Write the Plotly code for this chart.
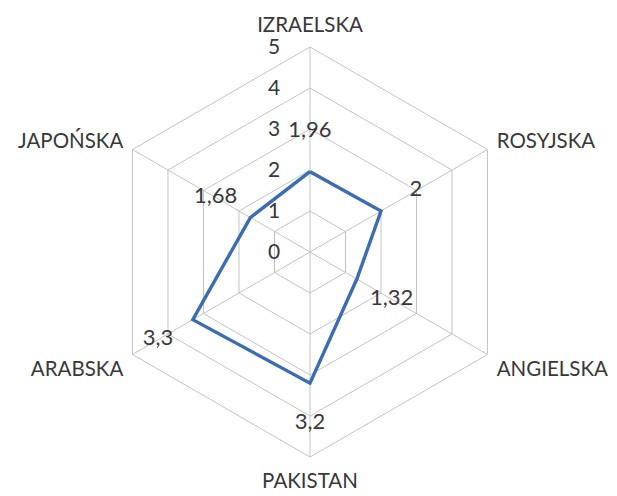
import plotly.graph_objects as go

categories = ["IZRAELSKA", "ROSYJSKA", "ANGIELSKA", "PAKISTAN", "ARABSKA", "JAPOŃSKA"]
values = [1.96, 2, 1.32, 3.2, 3.3, 1.68]
radial_ticks = [0, 1, 2, 3, 4, 5]

label_offset = 0.98
labels = [("%g" % v).replace(".", ",") for v in values]

line_color = "#3C6DB0"
grid_color = "#C3C3C3"
text_color = "#383838"
font_family = "Lato, Open Sans, Liberation Sans, sans-serif"

fig = go.Figure()
fig.add_trace(go.Scatterpolar(
    r=values + values[:1],
    theta=categories + categories[:1],
    mode="lines",
    line=dict(color=line_color, width=3.4),
    hoverinfo="skip",
    showlegend=False,
))
fig.add_trace(go.Scatterpolar(
    r=[v + label_offset for v in values],
    theta=categories,
    mode="text",
    text=labels,
    textfont=dict(family=font_family, size=22, color=text_color),
    showlegend=False,
    hoverinfo="skip",
))

fig.update_layout(
    width=617, height=496,
    margin=dict(l=52, r=65, t=39, b=47),
    paper_bgcolor="white",
    plot_bgcolor="white",
    font=dict(family=font_family, color=text_color),
    polar=dict(
        bgcolor="white",
        gridshape="linear",
        radialaxis=dict(
            range=[0, 5],
            tickvals=radial_ticks,
            ticktext=[str(t) for t in radial_ticks],
            angle=90,
            tickangle=90,
            side="counterclockwise",
            showline=False,
            gridcolor=grid_color,
            gridwidth=1,
            ticks="outside",
            ticklen=22,
            tickcolor="rgba(0,0,0,0)",
            tickfont=dict(size=21, color=text_color, family=font_family),
        ),
        angularaxis=dict(
            direction="clockwise",
            rotation=90,
            showline=True,
            linecolor=grid_color,
            linewidth=1,
            gridcolor=grid_color,
            gridwidth=1,
            ticks="outside",
            ticklen=6,
            tickcolor="rgba(0,0,0,0)",
            tickfont=dict(size=20.5, color=text_color, family=font_family),
        ),
    ),
)

fig.write_html("out.html")
